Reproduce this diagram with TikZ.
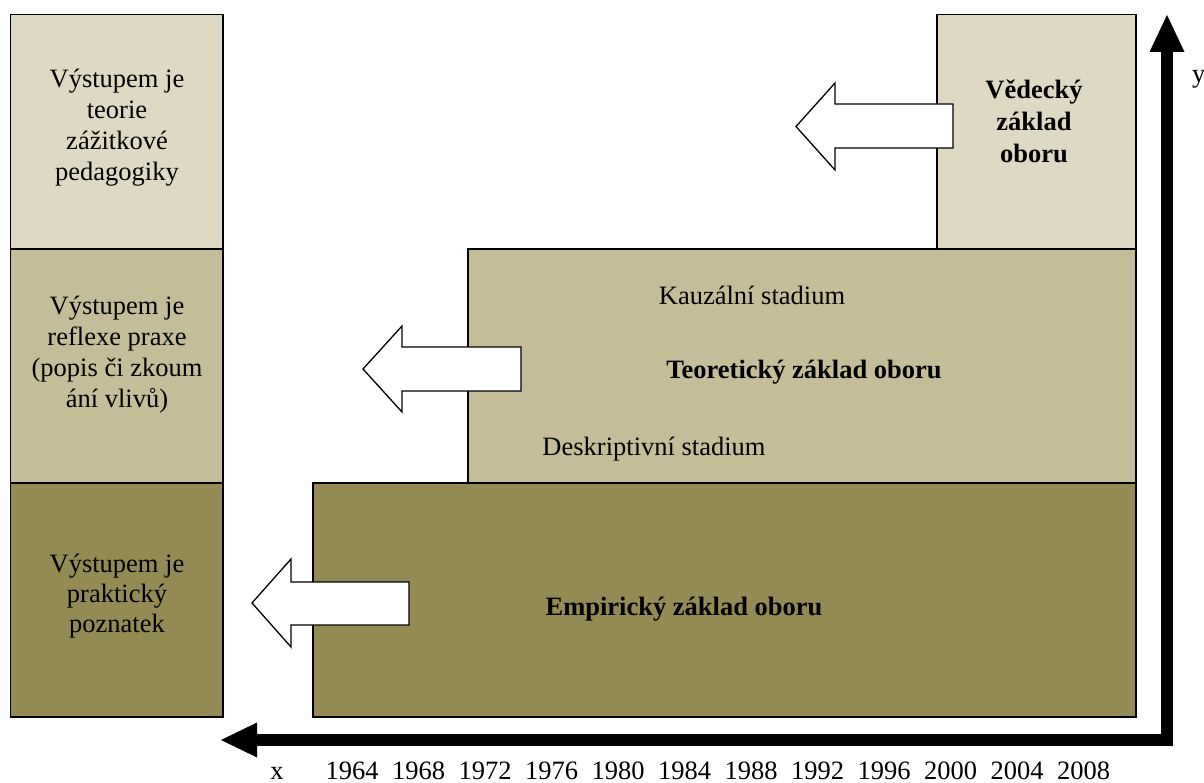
\documentclass[tikz,border=0pt]{standalone}
\usepackage{fontspec}
\setmainfont{Liberation Serif}
\usetikzlibrary{arrows.meta}
\definecolor{tanA}{HTML}{DDD9C3}
\definecolor{tanB}{HTML}{C4BD97}
\definecolor{tanC}{HTML}{948A54}
\begin{document}
\begin{tikzpicture}[x=1pt,y=-1pt,
  panel/.style={draw=black, line width=1.3pt, anchor=north west, inner sep=0pt, outer sep=0pt},
  blockarrow/.style={draw=black, fill=white, line width=1.3pt, line join=miter},
  txt/.style={font=\fontsize{26.5}{31}\selectfont, align=center, inner sep=0pt, anchor=base},
  btxt/.style={font=\fontsize{26.5}{32}\selectfont\bfseries, align=center, inner sep=0pt, anchor=base},
  axisline/.style={line width=11.5pt, line join=miter,
    {Triangle[width=35pt,length=36pt,line width=0pt]}-{Triangle[width=35pt,length=37pt,line width=0pt]}}
]
\useasboundingbox (0,0) rectangle (1204,783);
% left column
\node[panel, fill=tanA, minimum width=212.5pt, minimum height=234.5pt] (L1) at (10.5,14.5) {};
\node[panel, fill=tanB, minimum width=212.5pt, minimum height=234pt] (L2) at (10.5,249) {};
\node[panel, fill=tanC, minimum width=212.5pt, minimum height=234pt] (L3) at (10.5,483) {};
% staircase
\node[panel, fill=tanC, minimum width=823pt, minimum height=234pt] (E) at (313,483) {};
\node[panel, fill=tanB, minimum width=668pt, minimum height=234pt] (T) at (468,249) {};
\node[panel, fill=tanA, minimum width=199pt, minimum height=234.5pt] (V) at (937,14.5) {};
% block arrows
\draw[blockarrow] (953,104) -- (835,104) -- (835,83) -- (796,126.5) -- (835,170) -- (835,148) -- (953,148) -- cycle;
\draw[blockarrow] (521,347) -- (402,347) -- (402,326) -- (363,369) -- (402,412) -- (402,391) -- (521,391) -- cycle;
\draw[blockarrow] (409,582) -- (291,582) -- (291,559) -- (252,603) -- (291,647) -- (291,625) -- (409,625) -- cycle;
% texts (base anchor = baseline of last line)
\node[txt] (t1) at (117,181) {Výstupem je\\teorie\\zážitkové\\pedagogiky};
\node[txt] (t2) at (117,407) {Výstupem je\\reflexe praxe\\(popis či zkoum\\ání vlivů)};
\node[txt, font=\fontsize{26.5}{30}\selectfont] (t3) at (117,632) {Výstupem je\\praktický\\poznatek};
\node[btxt] (tv) at (1034,163) {Vědecký\\základ\\oboru};
\node[txt] (tk) at (752,305) {Kauzální stadium};
\node[btxt] (tt) at (804,378) {Teoretický základ oboru};
\node[txt] (td) at (654,455) {Deskriptivní stadium};
\node[btxt] (te) at (684,615) {Empirický základ oboru};
% axes
\coordinate (xtip) at (221,740);
\coordinate (corner) at (1167,740);
\coordinate (ytip) at (1167,15);
\draw[axisline] (xtip) -- (corner) -- (ytip);
\node[txt, anchor=base west] (ylab) at (1192,83) {y};
\node[txt] (xlab) at (277,779) {x};
\foreach \yr [count=\i from 0] in {1964,1968,1972,1976,1980,1984,1988,1992,1996,2000,2004,2008}
  \node[txt] (yr\yr) at ({352+66.5*\i},779) {\yr};
\end{tikzpicture}
\end{document}
